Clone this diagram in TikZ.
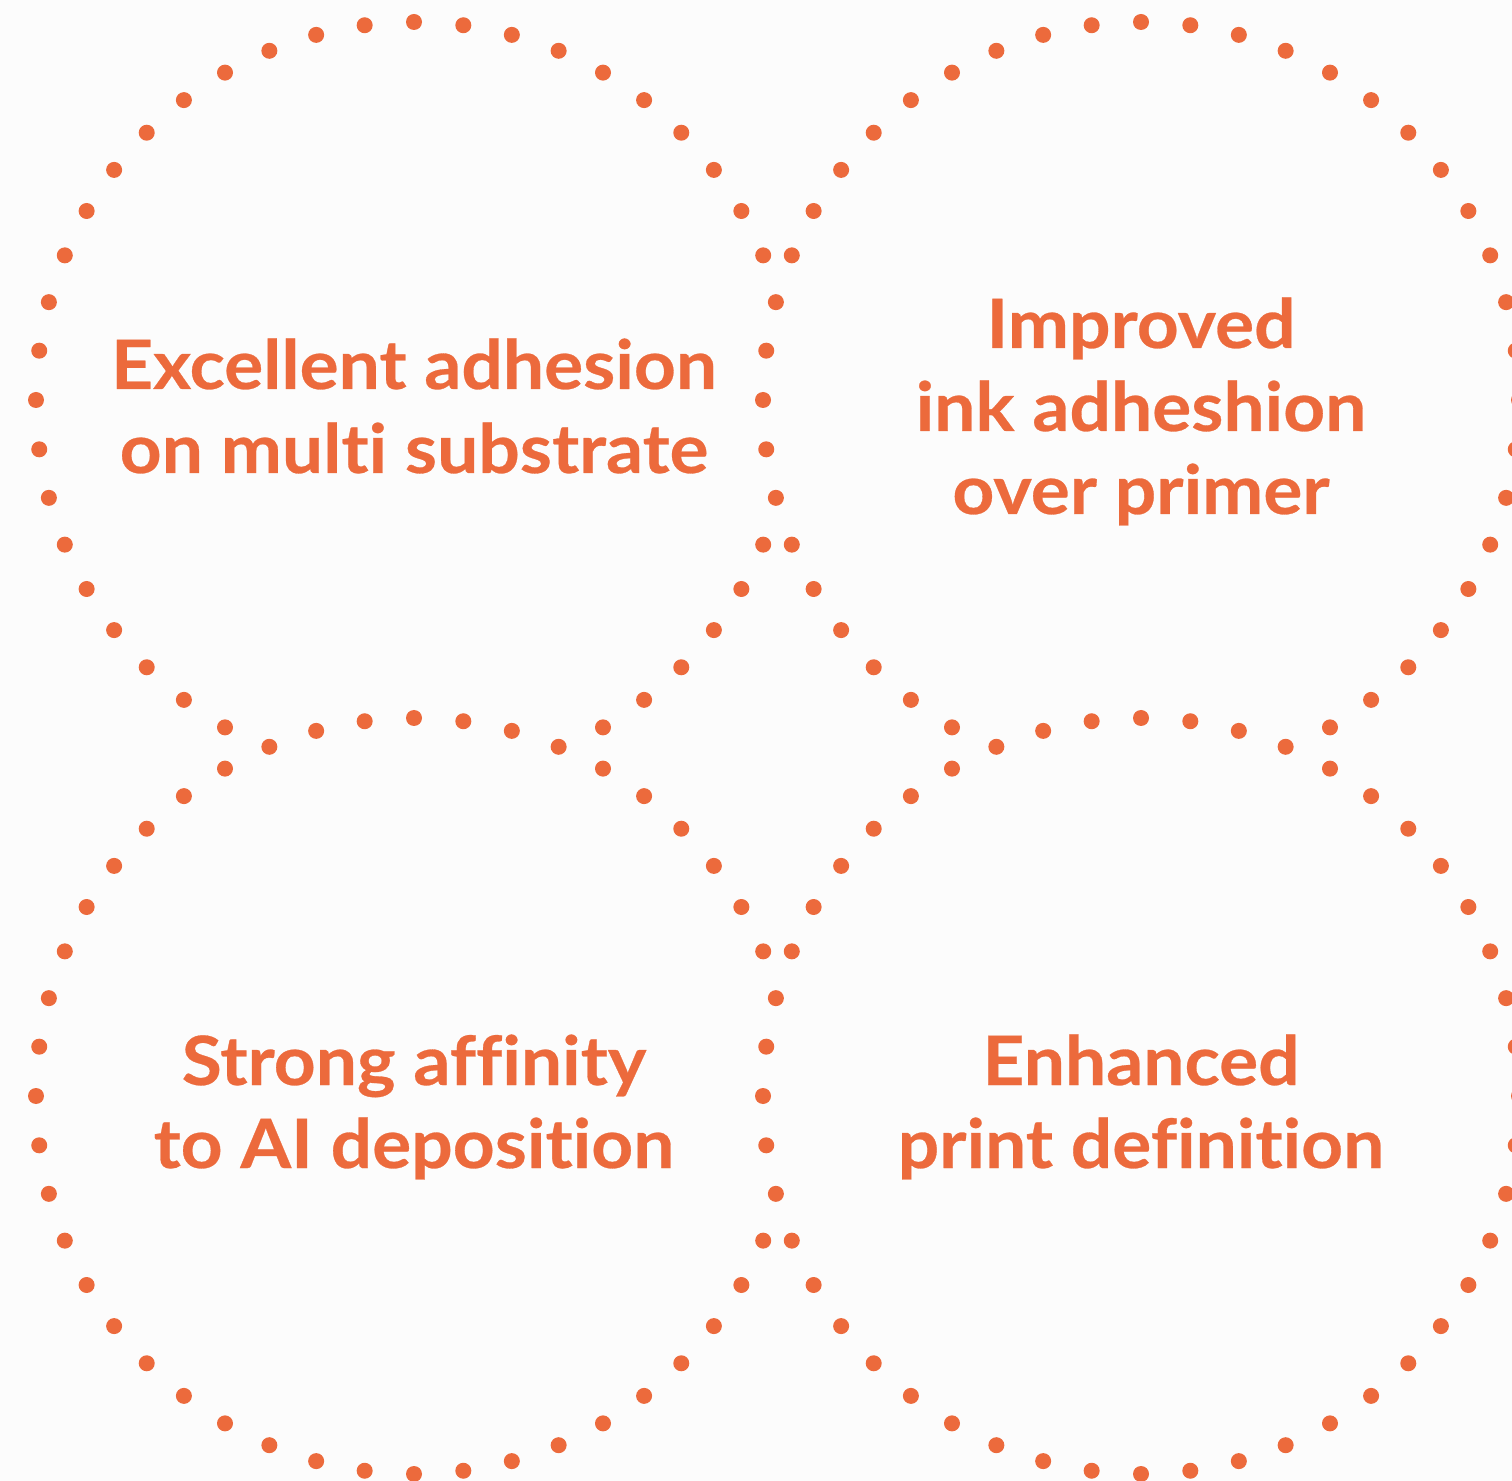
\documentclass[tikz,border=0pt]{standalone}
\usepackage{fontspec}
\setmainfont{Lato}[BoldFeatures={FakeStretch=1.075,FakeBold=0.4},Ligatures={NoCommon}]
\definecolor{dotorange}{RGB}{236,106,60}
\definecolor{bgpaper}{RGB}{252,252,252}
\begin{document}
\begin{tikzpicture}[x=0.5pt,y=-0.5pt,
  dotmark/.style={fill=dotorange},
  label/.style={text=dotorange,font=\fontsize{34}{41}\selectfont\bfseries,anchor=base,inner sep=0pt}]
\fill[bgpaper] (0,0) rectangle (1512,1481);
\useasboundingbox (0,0) rectangle (1512,1481);
\def\rad{378}
% each circle: 48 dots; skipbottom / skipright mark arcs hidden by a circle in front
% args: centre x, centre y, skip bottom (0/1), skip right (0/1)
\foreach \cx/\cy/\sb/\sr in {414/400/1/1, 1141/400/1/0, 414/1096/0/1, 1141/1096/0/0}{
  \foreach \k in {0,...,47}{
    \pgfmathtruncatemacro{\hide}{((\sb==1)&&(\k>=21)&&(\k<=27)) || ((\sr==1)&&(\k>=34)&&(\k<=38))}
    \ifnum\hide=0
      \fill[dotmark] ({\cx+\rad*cos(90+7.5*\k)},{\cy-\rad*sin(90+7.5*\k)}) circle[radius=8];
    \fi
  }
}
% texts
\node[label] (tla) at (414,389) {Excellent adhesion};
\node[label] (tlb) at (414,473) {on multi substrate};
\node[label] (tra) at (1141,348) {Improved};
\node[label] (trb) at (1141,431) {ink adheshion};
\node[label] (trc) at (1141,514) {over primer};
\node[label] (bla) at (414,1085) {Strong a{ff}inity};
\node[label] (blb) at (414,1168) {to AI deposition};
\node[label] (bra) at (1141,1085) {Enhanced};
\node[label] (brb) at (1141,1168) {print definition};
\end{tikzpicture}
\end{document}
